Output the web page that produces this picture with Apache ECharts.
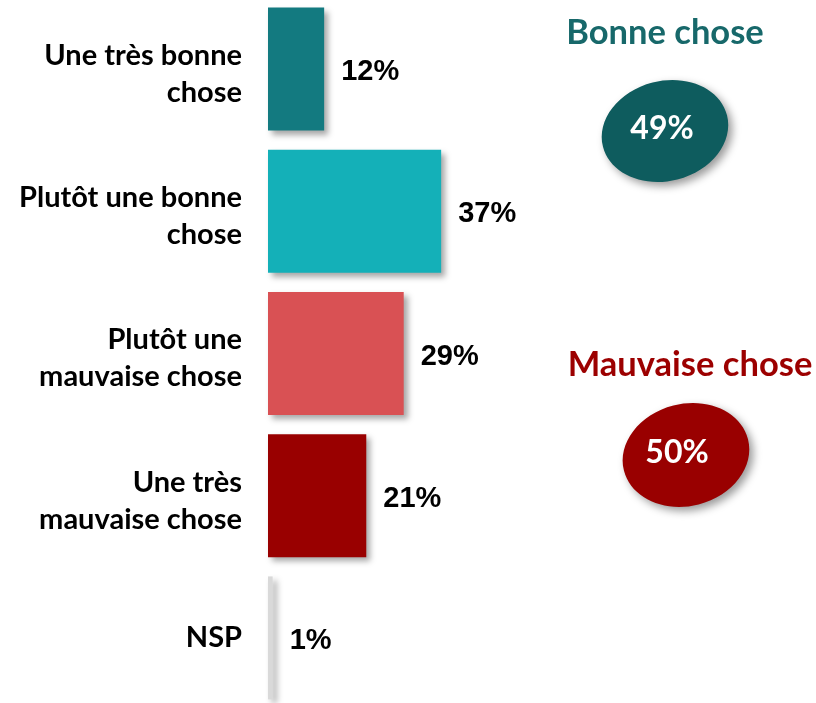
<!DOCTYPE html>
<html><head><meta charset="utf-8">
<script src="https://cdn.jsdelivr.net/npm/echarts@6/dist/echarts.min.js"></script>
<style>html,body{margin:0;padding:0;background:#fff}#c{width:816px;height:703px}</style>
</head><body><div id="c"></div>
<script>
const categories = ["Une très bonne\nchose", "Plutôt une bonne\nchose", "Plutôt une\nmauvaise chose", "Une très\nmauvaise chose", "NSP"];
const values = [12, 37, 29, 21, 1];
const barColors = ["#137a80", "#14b0b8", "#d95154", "#990000", "#d9d9d9"];
const groupTitles = ["Bonne chose", "Mauvaise chose"];
const groupTotals = [49, 50];
const groupColors = ["#0e5c5e", "#990000"];
const groupTitleColors = ["#17686a", "#9c0000"];

const chart = echarts.init(document.getElementById('c'));
const catFont = 'Lato';
chart.setOption({
  animation: false,
  grid: { left: 268, width: 468, top: -2, height: 711, outerBoundsMode: 'none', containLabel: false },
  xAxis: { type: 'value', min: 0, max: 100, show: false },
  yAxis: {
    type: 'category', data: categories, inverse: true,
    axisLine: { show: false }, axisTick: { show: false },
    axisLabel: {
      margin: 26, color: '#000', fontFamily: catFont, fontWeight: 'bold', fontSize: 29, lineHeight: 37, align: 'right',
      formatter: v => v.indexOf('\n') >= 0 ? '{s| }\n' + v : v,
      rich: { s: { fontSize: 1, lineHeight: 10 } }
    }
  },
  series: [{
    type: 'bar', barWidth: 123,
    data: values.map((v, i) => ({ value: v, itemStyle: { color: barColors[i] } })),
    itemStyle: { shadowColor: 'rgba(0,0,0,0.35)', shadowBlur: 6, shadowOffsetX: 4, shadowOffsetY: 4 },
    label: { show: true, position: 'right', distance: 17, offset: [0, 3], formatter: '{c}%', color: '#000', fontFamily: 'Liberation Sans', fontWeight: 'bold', fontSize: 29 }
  }],
  graphic: [
    { type: 'text', x: 665, y: 33, style: { text: groupTitles[0], fill: groupTitleColors[0], font: 'bold 34.5px Lato', textAlign: 'center', textVerticalAlign: 'middle' } },
    { type: 'ellipse', x: 665, y: 131, rotation: 0.25, shape: { cx: 0, cy: 0, rx: 64, ry: 50 }, style: { fill: groupColors[0], shadowColor: 'rgba(0,0,0,0.4)', shadowBlur: 8, shadowOffsetX: 4, shadowOffsetY: 4 } },
    { type: 'text', x: 662, y: 129, z: 10, style: { text: groupTotals[0] + '%', fill: '#fff', font: 'bold 32px Lato', textAlign: 'center', textVerticalAlign: 'middle' } },
    { type: 'text', x: 690, y: 365, style: { text: groupTitles[1], fill: groupTitleColors[1], font: 'bold 34.5px Lato', textAlign: 'center', textVerticalAlign: 'middle' } },
    { type: 'ellipse', x: 686, y: 455, rotation: 0.25, shape: { cx: 0, cy: 0, rx: 64, ry: 51 }, style: { fill: groupColors[1], shadowColor: 'rgba(0,0,0,0.4)', shadowBlur: 8, shadowOffsetX: 4, shadowOffsetY: 4 } },
    { type: 'text', x: 677, y: 453, z: 10, style: { text: groupTotals[1] + '%', fill: '#fff', font: 'bold 32px Lato', textAlign: 'center', textVerticalAlign: 'middle' } }
  ]
});
</script></body></html>
